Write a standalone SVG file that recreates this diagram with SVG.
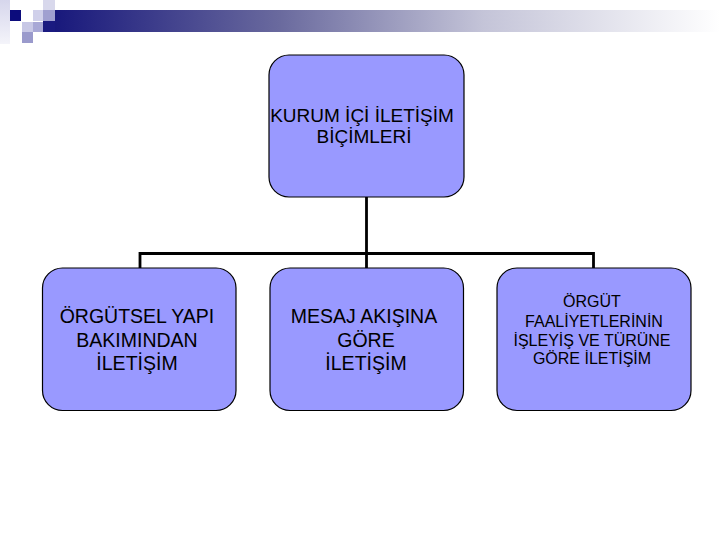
<svg xmlns="http://www.w3.org/2000/svg" width="720" height="540" viewBox="0 0 720 540">
<defs>
<linearGradient id="bar" x1="0" y1="0" x2="1" y2="0">
<stop offset="0" stop-color="#14147a"/>
<stop offset="0.35" stop-color="#6a6a9e"/>
<stop offset="0.65" stop-color="#c4c4d8"/>
<stop offset="1" stop-color="#ffffff"/>
</linearGradient>
<linearGradient id="strip" x1="0" y1="0" x2="0" y2="1">
<stop offset="0" stop-color="#d6d6ec"/>
<stop offset="1" stop-color="#f4f4fa"/>
</linearGradient>
</defs>
<style>
.node{fill:#9999ff;stroke:#000;stroke-width:1.2}
.t{font-family:"Liberation Sans",Arial,sans-serif;fill:#000;text-anchor:middle}
.conn{fill:none;stroke:#000;stroke-width:2.8}
</style>
<rect width="720" height="540" fill="#fff"/>
<g id="banner">
<rect x="43" y="10" width="677" height="22" fill="url(#bar)"/>
<rect x="0" y="0" width="10" height="44" fill="url(#strip)"/>
<rect x="10" y="10" width="11" height="11" fill="#0c0c7c"/>
<rect x="33" y="10" width="10" height="11" fill="#d0d0ea"/>
<rect x="43" y="0" width="12" height="10" fill="#d8d8ec"/>
<rect x="43" y="10" width="12" height="11" fill="#a0a0d0"/>
<rect x="43" y="21" width="12" height="11" fill="#1a1a80"/>
<rect x="22" y="22" width="11" height="10" fill="#c8c8e6"/>
<rect x="33" y="22" width="10" height="10" fill="#a8a8d6"/>
<rect x="22" y="32" width="11" height="11" fill="#9a9acc"/>
</g>
<g id="connectors">
<path class="conn" d="M366.5 197 V253.5 M140 268 V253.5 H593.5 V268 M366.5 253.5 V268"/>
</g>
<g id="root">
<rect class="node" x="269" y="55" width="195" height="142" rx="20" ry="20"/>
<text class="t" font-size="19" x="362" y="122">KURUM İÇİ İLETİŞİM</text>
<text class="t" font-size="19" x="364" y="143">BİÇİMLERİ</text>
</g>
<g id="n1">
<rect class="node" x="42.5" y="268" width="193.5" height="142.5" rx="20" ry="20"/>
<text class="t" font-size="19.5" x="137" y="323">ÖRGÜTSEL YAPI</text>
<text class="t" font-size="19.5" x="137" y="347">BAKIMINDAN</text>
<text class="t" font-size="19.5" x="137" y="370">İLETİŞİM</text>
</g>
<g id="n2">
<rect class="node" x="270" y="268" width="193.5" height="142.5" rx="20" ry="20"/>
<text class="t" font-size="19.5" x="364" y="323">MESAJ AKIŞINA</text>
<text class="t" font-size="19.5" x="366" y="347">GÖRE</text>
<text class="t" font-size="19.5" x="366" y="370">İLETİŞİM</text>
</g>
<g id="n3">
<rect class="node" x="497" y="268" width="194" height="142.5" rx="20" ry="20"/>
<text class="t" font-size="16" x="592" y="307">ÖRGÜT</text>
<text class="t" font-size="16" x="594" y="327">FAALİYETLERİNİN</text>
<text class="t" font-size="16" x="592" y="346">İŞLEYİŞ VE TÜRÜNE</text>
<text class="t" font-size="16" x="592" y="364">GÖRE İLETİŞİM</text>
</g>
</svg>
